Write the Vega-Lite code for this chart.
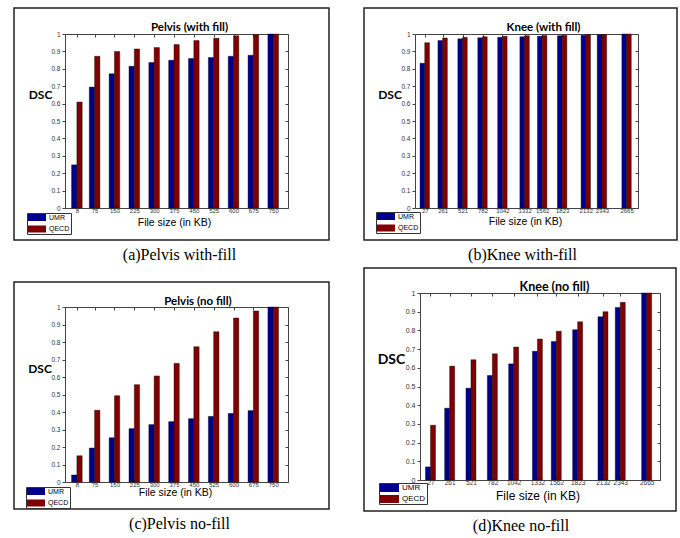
{
  "$schema": "https://vega.github.io/schema/vega-lite/v6.json",
  "background": "white",
  "padding": {"left": 13, "top": 7, "right": 4, "bottom": 2},
  "config": {
    "view": {"stroke": "#222", "strokeWidth": 1.5},
    "axis": {"grid": false, "labelFont": "Liberation Sans", "labelColor": "#333", "domainColor": "#444", "tickColor": "#444", "domainWidth": 1, "tickWidth": 1, "labelOverlap": false, "labelFlush": false, "titleColor": "#000"},
    "title": {"font": "Liberation Serif", "fontSize": 16, "fontWeight": "normal", "color": "#000", "orient": "bottom", "offset": 7, "anchor": "middle"},
    "legend": {"orient": "none", "title": null, "symbolType": "M-1,-1H4.143V1H-1Z", "symbolSize": 49, "symbolStrokeWidth": 0, "symbolOpacity": 1, "labelFont": "Liberation Sans", "labelFontSize": 7, "labelOffset": 14, "rowPadding": 3.5, "padding": 1, "strokeColor": "#333"}
  },
  "datasets": {
    "pa": [
      {"size": 8, "umr": 0.248, "qecd": 0.609},
      {"size": 75, "umr": 0.695, "qecd": 0.872},
      {"size": 150, "umr": 0.771, "qecd": 0.899},
      {"size": 225, "umr": 0.815, "qecd": 0.914},
      {"size": 300, "umr": 0.836, "qecd": 0.922},
      {"size": 375, "umr": 0.849, "qecd": 0.939},
      {"size": 450, "umr": 0.859, "qecd": 0.962},
      {"size": 525, "umr": 0.865, "qecd": 0.975},
      {"size": 600, "umr": 0.872, "qecd": 0.99},
      {"size": 675, "umr": 0.878, "qecd": 0.996},
      {"size": 750, "umr": 1.0, "qecd": 1.0}
    ],
    "kb": [
      {"size": 27, "umr": 0.832, "qecd": 0.95},
      {"size": 261, "umr": 0.962, "qecd": 0.977},
      {"size": 521, "umr": 0.972, "qecd": 0.981},
      {"size": 782, "umr": 0.978, "qecd": 0.984},
      {"size": 1042, "umr": 0.981, "qecd": 0.987},
      {"size": 1332, "umr": 0.984, "qecd": 0.99},
      {"size": 1562, "umr": 0.987, "qecd": 0.991},
      {"size": 1823, "umr": 0.99, "qecd": 0.993},
      {"size": 2132, "umr": 0.993, "qecd": 0.996},
      {"size": 2343, "umr": 0.995, "qecd": 0.997},
      {"size": 2665, "umr": 1.0, "qecd": 1.0}
    ],
    "pc": [
      {"size": 8, "umr": 0.04, "qecd": 0.15},
      {"size": 75, "umr": 0.194, "qecd": 0.41},
      {"size": 150, "umr": 0.253, "qecd": 0.493},
      {"size": 225, "umr": 0.305, "qecd": 0.556},
      {"size": 300, "umr": 0.328, "qecd": 0.606},
      {"size": 375, "umr": 0.345, "qecd": 0.678},
      {"size": 450, "umr": 0.362, "qecd": 0.773},
      {"size": 525, "umr": 0.375, "qecd": 0.859},
      {"size": 600, "umr": 0.392, "qecd": 0.937},
      {"size": 675, "umr": 0.408, "qecd": 0.977},
      {"size": 750, "umr": 1.0, "qecd": 1.0}
    ],
    "kd": [
      {"size": 27, "umr": 0.07, "qecd": 0.293},
      {"size": 261, "umr": 0.384, "qecd": 0.609},
      {"size": 521, "umr": 0.491, "qecd": 0.643},
      {"size": 782, "umr": 0.559, "qecd": 0.675},
      {"size": 1042, "umr": 0.621, "qecd": 0.711},
      {"size": 1332, "umr": 0.688, "qecd": 0.754},
      {"size": 1562, "umr": 0.741, "qecd": 0.796},
      {"size": 1823, "umr": 0.804, "qecd": 0.846},
      {"size": 2132, "umr": 0.873, "qecd": 0.9},
      {"size": 2343, "umr": 0.923, "qecd": 0.95},
      {"size": 2665, "umr": 1.0, "qecd": 1.0}
    ]
  },
  "spacing": 33,
  "resolve": {"scale": {"color": "independent"}, "legend": {"color": "independent"}},
  "hconcat": [
    {
      "spacing": 17,
      "resolve": {"scale": {"color": "independent"}, "legend": {"color": "independent"}},
      "vconcat": [
        {
          "width": 315, "height": 232,
          "title": {"text": "(a)Pelvis with-fill", "dx": 8},
          "data": {"name": "pa"},
          "resolve": {"axis": {"x": "independent", "y": "independent"}},
          "layer": [
            {
              "mark": {"type": "bar", "width": 5.3, "xOffset": -2.65, "stroke": "#000", "strokeWidth": 0.4},
              "encoding": {
                "x": {"field": "size", "type": "quantitative", "scale": {"domain": [-18, 787], "range": [51, 274], "nice": false, "zero": false},
                  "axis": {"orient": "bottom", "offset": -32, "values": [8, 75, 150, 225, 300, 375, 450, 525, 600, 675, 750], "format": "d", "tickSize": -3, "labelPadding": 2, "labelFontSize": 6, "title": "File size (in KB)", "titleFont": "Liberation Sans", "titleFontSize": 10.5, "titleFontWeight": "normal", "titleX": 160, "titleY": 14.5, "titleBaseline": "middle"}},
                "y": {"field": "umr", "type": "quantitative", "scale": {"domain": [0, 1], "range": [200, 26], "nice": false},
                  "axis": {"orient": "left", "offset": -51, "values": [0, 0.1, 0.2, 0.3, 0.4, 0.5, 0.6, 0.7, 0.8, 0.9, 1], "format": ".1~f", "tickSize": 3, "labelPadding": 2, "labelFontSize": 6.5, "title": "DSC", "titleAngle": 0, "titleFont": "Lato", "titleFontWeight": "bold", "titleFontSize": 12, "titleX": -25, "titleY": 86, "titleAlign": "center", "titleBaseline": "middle"}},
                "color": {"datum": "UMR", "type": "nominal", "scale": {"domain": ["UMR", "QECD"], "range": ["#00008f", "#800000"]}, "legend": {"legendX": 13, "legendY": 205}}
              }
            },
            {
              "mark": {"type": "bar", "width": 5.3, "xOffset": 2.65, "stroke": "#000", "strokeWidth": 0.4},
              "encoding": {
                "x": {"field": "size", "type": "quantitative", "axis": null},
                "y": {"field": "qecd", "type": "quantitative", "axis": null},
                "color": {"datum": "QECD", "type": "nominal"}
              }
            },
            {
              "mark": {"type": "point", "opacity": 0},
              "encoding": {
                "x": {"field": "size", "type": "quantitative", "axis": {"orient": "top", "offset": -26, "values": [8, 75, 150, 225, 300, 375, 450, 525, 600, 675, 750], "labels": false, "tickSize": -3, "title": "Pelvis (with fill)", "titleFont": "Lato", "titleFontWeight": "bold", "titleFontSize": 11.5, "titleX": 175, "titleY": -7, "titleBaseline": "middle", "titleAlign": "center"}},
                "y": {"field": "umr", "type": "quantitative", "axis": {"orient": "right", "offset": -41, "values": [0, 0.1, 0.2, 0.3, 0.4, 0.5, 0.6, 0.7, 0.8, 0.9, 1], "labels": false, "tickSize": -3, "title": null}}
              }
            }
          ]
        },
        {
          "width": 315, "height": 227,
          "title": {"text": "(c)Pelvis no-fill", "dx": 8},
          "data": {"name": "pc"},
          "resolve": {"axis": {"x": "independent", "y": "independent"}},
          "layer": [
            {
              "mark": {"type": "bar", "width": 5.3, "xOffset": -2.65, "stroke": "#000", "strokeWidth": 0.4},
              "encoding": {
                "x": {"field": "size", "type": "quantitative", "scale": {"domain": [-18, 787], "range": [51, 274], "nice": false, "zero": false},
                  "axis": {"orient": "bottom", "offset": -27, "values": [8, 75, 150, 225, 300, 375, 450, 525, 600, 675, 750], "format": "d", "tickSize": -3, "labelPadding": 2, "labelFontSize": 6, "title": "File size (in KB)", "titleFont": "Liberation Sans", "titleFontSize": 10.5, "titleFontWeight": "normal", "titleX": 161, "titleY": 10.5, "titleBaseline": "middle"}},
                "y": {"field": "umr", "type": "quantitative", "scale": {"domain": [0, 1], "range": [200, 25], "nice": false},
                  "axis": {"orient": "left", "offset": -51, "values": [0, 0.1, 0.2, 0.3, 0.4, 0.5, 0.6, 0.7, 0.8, 0.9, 1], "format": ".1~f", "tickSize": 3, "labelPadding": 2, "labelFontSize": 6.5, "title": "DSC", "titleAngle": 0, "titleFont": "Lato", "titleFontWeight": "bold", "titleFontSize": 12, "titleX": -25.5, "titleY": 86, "titleAlign": "center", "titleBaseline": "middle"}},
                "color": {"datum": "UMR", "type": "nominal", "scale": {"domain": ["UMR", "QECD"], "range": ["#00008f", "#800000"]}, "legend": {"legendX": 12, "legendY": 205}}
              }
            },
            {
              "mark": {"type": "bar", "width": 5.3, "xOffset": 2.65, "stroke": "#000", "strokeWidth": 0.4},
              "encoding": {
                "x": {"field": "size", "type": "quantitative", "axis": null},
                "y": {"field": "qecd", "type": "quantitative", "axis": null},
                "color": {"datum": "QECD", "type": "nominal"}
              }
            },
            {
              "mark": {"type": "point", "opacity": 0},
              "encoding": {
                "x": {"field": "size", "type": "quantitative", "axis": {"orient": "top", "offset": -25, "values": [8, 75, 150, 225, 300, 375, 450, 525, 600, 675, 750], "labels": false, "tickSize": -3, "title": "Pelvis (no fill)", "titleFont": "Lato", "titleFontWeight": "bold", "titleFontSize": 11.5, "titleX": 183.5, "titleY": -6, "titleBaseline": "middle", "titleAlign": "center"}},
                "y": {"field": "umr", "type": "quantitative", "axis": {"orient": "right", "offset": -41, "values": [0, 0.1, 0.2, 0.3, 0.4, 0.5, 0.6, 0.7, 0.8, 0.9, 1], "labels": false, "tickSize": -3, "title": null}}
              }
            }
          ]
        }
      ]
    },
    {
      "spacing": 3,
      "resolve": {"scale": {"color": "independent"}, "legend": {"color": "independent"}},
      "vconcat": [
        {
          "width": 313, "height": 232,
          "title": {"text": "(b)Knee with-fill", "dx": 2},
          "data": {"name": "kb"},
          "resolve": {"axis": {"x": "independent", "y": "independent"}},
          "layer": [
            {
              "mark": {"type": "bar", "width": 4.7, "xOffset": -2.35, "stroke": "#000", "strokeWidth": 0.4},
              "encoding": {
                "x": {"field": "size", "type": "quantitative", "scale": {"domain": [-35, 2749], "range": [51, 274], "nice": false, "zero": false},
                  "axis": {"orient": "bottom", "offset": -32, "values": [27, 261, 521, 782, 1042, 1332, 1562, 1823, 2132, 2343, 2665], "format": "d", "tickSize": -3, "labelPadding": 2, "labelFontSize": 6, "title": "File size (in KB)", "titleFont": "Liberation Sans", "titleFontSize": 10.5, "titleFontWeight": "normal", "titleX": 161, "titleY": 13.5, "titleBaseline": "middle"}},
                "y": {"field": "umr", "type": "quantitative", "scale": {"domain": [0, 1], "range": [200, 26], "nice": false},
                  "axis": {"orient": "left", "offset": -51, "values": [0, 0.1, 0.2, 0.3, 0.4, 0.5, 0.6, 0.7, 0.8, 0.9, 1], "format": ".1~f", "tickSize": 3, "labelPadding": 2, "labelFontSize": 6.5, "title": "DSC", "titleAngle": 0, "titleFont": "Lato", "titleFontWeight": "bold", "titleFontSize": 12, "titleX": -25.5, "titleY": 86.5, "titleAlign": "center", "titleBaseline": "middle"}},
                "color": {"datum": "UMR", "type": "nominal", "scale": {"domain": ["UMR", "QECD"], "range": ["#00008f", "#800000"]}, "legend": {"legendX": 12, "legendY": 204}}
              }
            },
            {
              "mark": {"type": "bar", "width": 4.7, "xOffset": 2.35, "stroke": "#000", "strokeWidth": 0.4},
              "encoding": {
                "x": {"field": "size", "type": "quantitative", "axis": null},
                "y": {"field": "qecd", "type": "quantitative", "axis": null},
                "color": {"datum": "QECD", "type": "nominal"}
              }
            },
            {
              "mark": {"type": "point", "opacity": 0},
              "encoding": {
                "x": {"field": "size", "type": "quantitative", "axis": {"orient": "top", "offset": -26, "values": [27, 261, 521, 782, 1042, 1332, 1562, 1823, 2132, 2343, 2665], "labels": false, "tickSize": -3, "title": "Knee (with fill)", "titleFont": "Lato", "titleFontWeight": "bold", "titleFontSize": 11.5, "titleX": 179, "titleY": -7, "titleBaseline": "middle", "titleAlign": "center"}},
                "y": {"field": "umr", "type": "quantitative", "axis": {"orient": "right", "offset": -39, "values": [0, 0.1, 0.2, 0.3, 0.4, 0.5, 0.6, 0.7, 0.8, 0.9, 1], "labels": false, "tickSize": -3, "title": null}}
              }
            }
          ]
        },
        {
          "width": 312, "height": 243,
          "title": {"text": "(d)Knee no-fill", "dx": 1},
          "data": {"name": "kd"},
          "resolve": {"axis": {"x": "independent", "y": "independent"}},
          "layer": [
            {
              "mark": {"type": "bar", "width": 5, "xOffset": -2.5, "stroke": "#000", "strokeWidth": 0.4},
              "encoding": {
                "x": {"field": "size", "type": "quantitative", "scale": {"domain": [-40, 2767], "range": [56, 296], "nice": false, "zero": false},
                  "axis": {"orient": "bottom", "offset": -31, "values": [27, 261, 521, 782, 1042, 1332, 1562, 1823, 2132, 2343, 2665], "format": "d", "tickSize": -3, "labelPadding": 2, "labelFontSize": 6.5, "title": "File size (in KB)", "titleFont": "Liberation Sans", "titleFontSize": 12, "titleFontWeight": "normal", "titleX": 173.5, "titleY": 15, "titleBaseline": "middle"}},
                "y": {"field": "umr", "type": "quantitative", "scale": {"domain": [0, 1], "range": [212, 25], "nice": false},
                  "axis": {"orient": "left", "offset": -56, "values": [0, 0.1, 0.2, 0.3, 0.4, 0.5, 0.6, 0.7, 0.8, 0.9, 1], "format": ".1~f", "tickSize": 3, "labelPadding": 2, "labelFontSize": 7, "title": "DSC", "titleAngle": 0, "titleFont": "Lato", "titleFontWeight": "bold", "titleFontSize": 14, "titleX": -29, "titleY": 91.5, "titleAlign": "center", "titleBaseline": "middle"}},
                "color": {"datum": "UMR", "type": "nominal", "scale": {"domain": ["UMR", "QECD"], "range": ["#00008f", "#800000"]}, "legend": {"legendX": 15, "legendY": 215, "labelFontSize": 8, "symbolType": "M-1,-1H3.75V1H-1Z", "symbolSize": 64, "labelOffset": 14, "rowPadding": 3}}
              }
            },
            {
              "mark": {"type": "bar", "width": 5, "xOffset": 2.5, "stroke": "#000", "strokeWidth": 0.4},
              "encoding": {
                "x": {"field": "size", "type": "quantitative", "axis": null},
                "y": {"field": "qecd", "type": "quantitative", "axis": null},
                "color": {"datum": "QECD", "type": "nominal"}
              }
            },
            {
              "mark": {"type": "point", "opacity": 0},
              "encoding": {
                "x": {"field": "size", "type": "quantitative", "axis": {"orient": "top", "offset": -25, "values": [27, 261, 521, 782, 1042, 1332, 1562, 1823, 2132, 2343, 2665], "labels": false, "tickSize": -3, "title": "Knee (no fill)", "titleFont": "Lato", "titleFontWeight": "bold", "titleFontSize": 12.5, "titleX": 190, "titleY": -7, "titleBaseline": "middle", "titleAlign": "center"}},
                "y": {"field": "umr", "type": "quantitative", "axis": {"orient": "right", "offset": -16, "values": [0, 0.1, 0.2, 0.3, 0.4, 0.5, 0.6, 0.7, 0.8, 0.9, 1], "labels": false, "tickSize": -3, "title": null}}
              }
            }
          ]
        }
      ]
    }
  ]
}
